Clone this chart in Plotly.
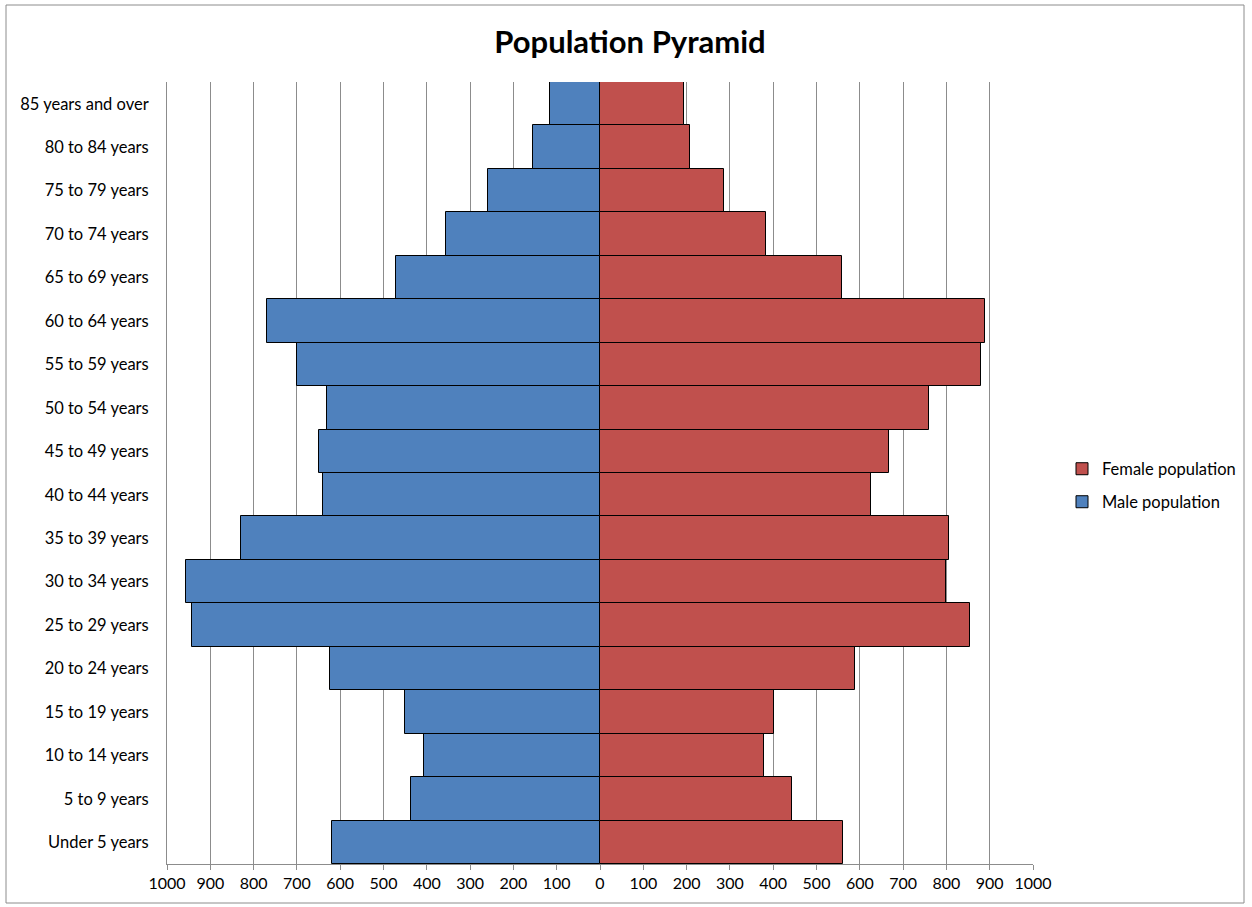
import plotly.graph_objects as go

age_groups = ["Under 5 years", "5 to 9 years", "10 to 14 years", "15 to 19 years",
              "20 to 24 years", "25 to 29 years", "30 to 34 years", "35 to 39 years",
              "40 to 44 years", "45 to 49 years", "50 to 54 years", "55 to 59 years",
              "60 to 64 years", "65 to 69 years", "70 to 74 years", "75 to 79 years",
              "80 to 84 years", "85 years and over"]
male = [619, 436, 407, 450, 624, 942, 956, 828, 640, 649, 630, 700, 770, 471, 356, 258, 155, 115]
female = [561, 443, 378, 401, 590, 854, 800, 807, 626, 667, 760, 879, 888, 558, 383, 287, 208, 195]
tick_values = list(range(-1000, 1001, 100))
tick_labels = [str(abs(v)) for v in tick_values]

W, H = 1252, 907
L, R, T, B = 167, 1033, 82, 864
FONT = "Lato, 'Open Sans', sans-serif"

fig = go.Figure()
fig.add_trace(go.Bar(
    y=age_groups, x=[-v for v in male], orientation="h", name="Male population",
    marker=dict(color="#4F81BD", line=dict(color="#000000", width=1)),
    customdata=male, hovertemplate="%{y}: %{customdata}<extra>Male</extra>",
    legend="legend2"))
fig.add_trace(go.Bar(
    y=age_groups, x=female, orientation="h", name="Female population",
    marker=dict(color="#C0504D", line=dict(color="#000000", width=1)),
    hovertemplate="%{y}: %{x}<extra>Female</extra>",
    legend="legend"))

pw, ph = R - L, B - T
def px_x(p):
    return (p - L) / pw
def px_y(p):
    return (B - p) / ph

legend_common = dict(xanchor="left", yanchor="middle", font=dict(size=16.5, family=FONT),
                     bgcolor="rgba(0,0,0,0)", itemwidth=30)

fig.update_layout(
    width=W, height=H,
    margin=dict(l=L, r=W - R, t=T, b=H - B, autoexpand=False),
    barmode="relative", bargap=0,
    paper_bgcolor="white", plot_bgcolor="white",
    font=dict(family=FONT, size=16.5, color="#000000"),
    title=dict(text="<b>Population Pyramid</b>", x=630 / W, xanchor="center",
               y=1 - 42 / H, yanchor="middle",
               font=dict(size=31, family=FONT, color="#000000")),
    xaxis=dict(range=[-1000, 1000], tickvals=tick_values, ticktext=tick_labels,
               showgrid=True, gridcolor="#8C8C8C", gridwidth=1,
               showline=True, linecolor="#8C8C8C", linewidth=1,
               ticks="outside", ticklen=5, tickcolor="#8C8C8C",
               zeroline=False, tickfont=dict(size=16), fixedrange=True),
    yaxis=dict(categoryorder="array", categoryarray=age_groups,
               showline=True, linecolor="#8C8C8C", linewidth=1, mirror=False,
               ticks="", showgrid=False, tickfont=dict(size=16.5),
               ticklabelstandoff=14, fixedrange=True),
    legend=dict(x=px_x(1062), y=px_y(469), **legend_common),
    legend2=dict(x=px_x(1062), y=px_y(502), **legend_common),
    showlegend=True,
    shapes=[dict(type="rect", xref="paper", yref="paper",
                 x0=px_x(6), x1=px_x(1244), y0=px_y(903), y1=px_y(5),
                 line=dict(color="#8C8C8C", width=1), layer="below")],
)

fig.write_html("out.html")
